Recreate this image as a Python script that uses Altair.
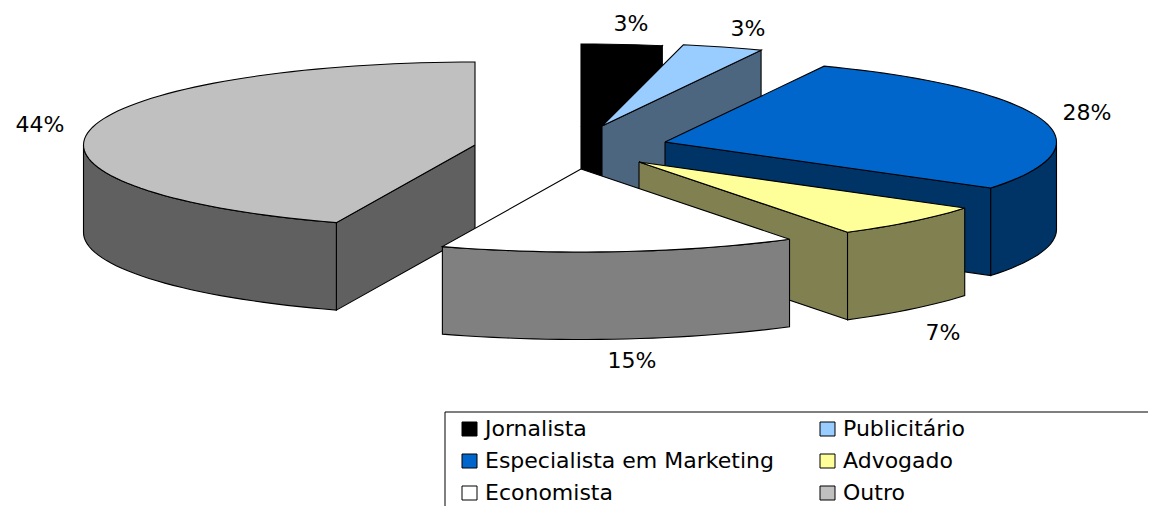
import math
import altair as alt
import pandas as pd

# ---- data ----
categories = ["Jornalista", "Publicitário", "Especialista em Marketing", "Advogado", "Economista", "Outro"]
shares = [3.33, 3.33, 27.7, 6.7, 14.7, 44.24]
labels = ["3%", "3%", "28%", "7%", "15%", "44%"]
top_colors = ["#000000", "#99CCFF", "#0066CC", "#FFFF99", "#FFFFFF", "#C0C0C0"]
wall_colors = ["#000000", "#4D6680", "#003366", "#808050", "#808080", "#606060"]

# ---- layout of the exploded tilted pie ----
RX, RY, DEPTH = 391.5, 83.0, 87.5
apexes = [(581, 127), (602, 126), (665, 142), (639, 162), (581, 169), (475, 145)]
label_pos = [(631, 24), (748, 29), (1087, 113), (943, 333), (632, 361), (40, 125)]
legend_cols = [462, 820]
legend_rows = [429, 461, 493]
X0, X1, Y0, Y1 = 8, 1148, 8, 506

x_scale = alt.Scale(domain=[X0, X1], range=[0, X1 - X0])
y_scale = alt.Scale(domain=[Y1, Y0], range=[Y1 - Y0, 0])


def arc(apex, a0, a1, dy=0.0):
    n = max(2, int(abs(a1 - a0) / 2) + 1)
    out = []
    for i in range(n + 1):
        a = math.radians(a0 + (a1 - a0) * i / n)
        out.append((apex[0] + RX * math.sin(a), apex[1] - RY * math.cos(a) + dy))
    return out


def poly(points, fill, stroke="#000000", sw=1.1):
    pts = list(points) + [points[0]]
    df = pd.DataFrame({"px": [p[0] for p in pts], "py": [p[1] for p in pts], "i": range(len(pts))})
    return alt.Chart(df).mark_line(fill=fill, stroke=stroke, strokeWidth=sw, interpolate="linear", strokeJoin="miter").encode(
        x=alt.X("px:Q", scale=x_scale, axis=None),
        y=alt.Y("py:Q", scale=y_scale, axis=None),
        order="i:Q",
    )


def radial_wall(apex, a, fill):
    end = arc(apex, a, a)[0]
    return poly([apex, end, (end[0], end[1] + DEPTH), (apex[0], apex[1] + DEPTH)], fill)


def outer_wall(apex, a0, a1, fill):
    top = arc(apex, a0, a1)
    bottom = arc(apex, a1, a0, DEPTH)
    return poly(top + bottom, fill)


total = sum(shares)
starts, ends, acc = [], [], 0.0
for s in shares:
    starts.append(acc / total * 360)
    acc += s
    ends.append(acc / total * 360)

layers = []
for idx in [0, 1, 5, 2, 3, 4]:
    apex, a0, a1 = apexes[idx], starts[idx], ends[idx]
    wall = wall_colors[idx]
    if a1 <= 180:
        layers.append(radial_wall(apex, a1, wall))
    if a0 >= 180:
        layers.append(radial_wall(apex, a0, wall))
    lo, hi = max(a0, 90), min(a1, 270)
    if lo < hi:
        layers.append(outer_wall(apex, lo, hi, wall))
    layers.append(poly([apex] + arc(apex, a0, a1), top_colors[idx]))

# percent labels
lab_df = pd.DataFrame({"px": [p[0] for p in label_pos], "py": [p[1] for p in label_pos], "t": labels})
layers.append(
    alt.Chart(lab_df).mark_text(font="DejaVu Sans", fontSize=22, color="#000000", align="center", baseline="middle").encode(
        x=alt.X("px:Q", scale=x_scale, axis=None), y=alt.Y("py:Q", scale=y_scale, axis=None), text="t:N"
    )
)

# legend frame (top and left edges run off the picture)
frame_top = pd.DataFrame({"x": [445], "x2": [X1], "y": [412]})
frame_left = pd.DataFrame({"x": [445], "y": [412], "y2": [Y1]})
layers.append(alt.Chart(frame_top).mark_rule(color="#000000", strokeWidth=1).encode(
    x=alt.X("x:Q", scale=x_scale, axis=None), x2="x2:Q", y=alt.Y("y:Q", scale=y_scale, axis=None)))
layers.append(alt.Chart(frame_left).mark_rule(color="#000000", strokeWidth=1).encode(
    x=alt.X("x:Q", scale=x_scale, axis=None), y=alt.Y("y:Q", scale=y_scale, axis=None), y2="y2:Q"))

# legend entries
rows = []
for i, name in enumerate(categories):
    cx, cy = legend_cols[i % 2], legend_rows[i // 2]
    rows.append({"name": name, "x": cx, "x2": cx + 15, "y": cy - 7, "y2": cy + 7, "tx": cx + 23, "ty": cy, "c": top_colors[i]})
leg = pd.DataFrame(rows)
layers.append(alt.Chart(leg).mark_rect(stroke="#000000", strokeWidth=1).encode(
    x=alt.X("x:Q", scale=x_scale, axis=None), x2="x2:Q",
    y=alt.Y("y:Q", scale=y_scale, axis=None), y2="y2:Q",
    fill=alt.Fill("c:N", scale=None, legend=None)))
layers.append(alt.Chart(leg).mark_text(font="DejaVu Sans", fontSize=22, color="#000000", align="left", baseline="middle").encode(
    x=alt.X("tx:Q", scale=x_scale, axis=None), y=alt.Y("ty:Q", scale=y_scale, axis=None), text="name:N"))

chart = alt.layer(*layers).properties(
    width=X1 - X0, height=Y1 - Y0, padding=0, background="#FFFFFF",
    autosize=alt.AutoSizeParams(type="none"),
).configure_view(stroke=None)

chart.save("out.html", embed_options={"renderer": "svg", "actions": False})
